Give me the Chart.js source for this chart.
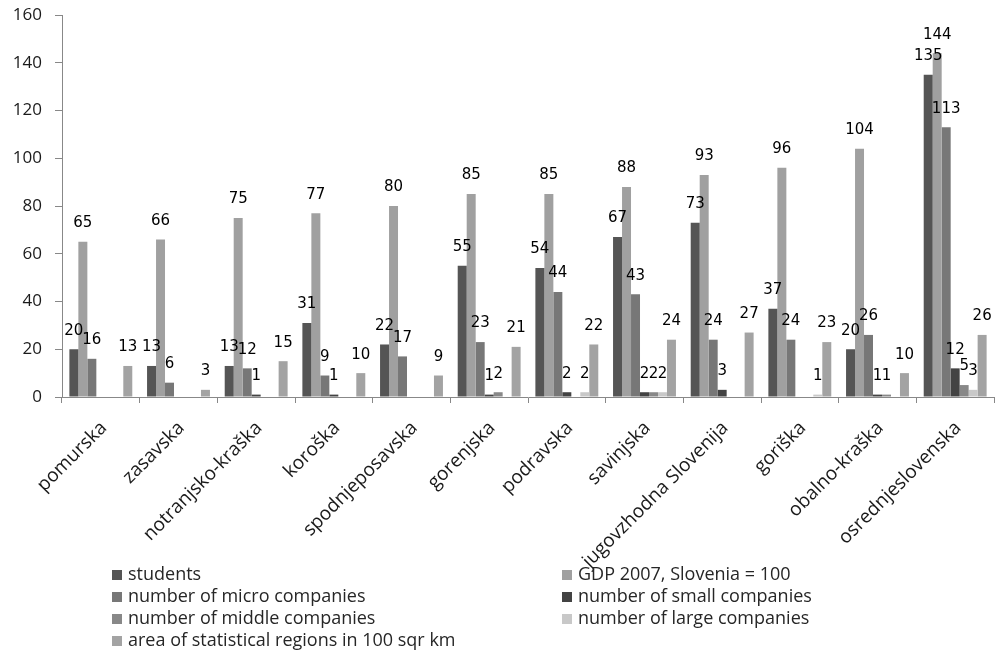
<!DOCTYPE html>
<html>
<head>
<meta charset="utf-8">
<script src="https://cdn.jsdelivr.net/npm/chart.js@4"></script>
<style>
  body { margin: 0; background: #fff; }
  #wrap { position: relative; width: 999px; height: 652px; }
  #legend { position: absolute; left: 0; top: 0; width: 999px; height: 652px; pointer-events: none;
            font-family: "Open Sans", sans-serif; font-size: 18px; color: #262626; }
  .item { position: absolute; white-space: nowrap; line-height: 22px; }
  .box { display: inline-block; width: 10px; height: 10px; margin-right: 6px; vertical-align: 0px; }
</style>
</head>
<body>
<div id="wrap">
  <canvas id="chart" width="999" height="652"></canvas>
  <div id="legend"></div>
</div>
<script>
const regions = ["pomurska", "zasavska", "notranjsko-kraška", "koroška", "spodnjeposavska", "gorenjska",
  "podravska", "savinjska", "jugovzhodna Slovenija", "goriška", "obalno-kraška", "osrednjeslovenska"];

const students = [20, 13, 13, 31, 22, 55, 54, 67, 73, 37, 20, 135];
const gdp2007 = [65, 66, 75, 77, 80, 85, 85, 88, 93, 96, 104, 144];
const microCompanies = [16, 6, 12, 9, 17, 23, 44, 43, 24, 24, 26, 113];
const smallCompanies = [null, null, 1, 1, null, 1, 2, 2, 3, null, 1, 12];
const middleCompanies = [null, null, null, null, null, 2, null, 2, null, null, 1, 5];
const largeCompanies = [null, null, null, null, null, null, 2, 2, null, 1, null, 3];
const areaRegions = [13, 3, 15, 10, 9, 21, 22, 24, 27, 23, 10, 26];

const yTicks = [0, 20, 40, 60, 80, 100, 120, 140, 160];

const series = [
  { label: "students", data: students, color: "#555555" },
  { label: "GDP 2007, Slovenia = 100", data: gdp2007, color: "#a0a0a0" },
  { label: "number of micro companies", data: microCompanies, color: "#777777" },
  { label: "number of small companies", data: smallCompanies, color: "#434343" },
  { label: "number of middle companies", data: middleCompanies, color: "#888888" },
  { label: "number of large companies", data: largeCompanies, color: "#c8c8c8" },
  { label: "area of statistical regions in 100 sqr km", data: areaRegions, color: "#a3a3a3" }
];

// value labels above each bar
const barLabels = {
  id: "barLabels",
  afterDatasetsDraw(chart) {
    const ctx = chart.ctx;
    ctx.save();
    ctx.font = "15px 'DejaVu Sans'";
    ctx.fillStyle = "#000";
    ctx.textAlign = "center";
    ctx.textBaseline = "bottom";
    chart.data.datasets.forEach((ds, i) => {
      const meta = chart.getDatasetMeta(i);
      meta.data.forEach((bar, j) => {
        const v = ds.data[j];
        if (v === null || v === undefined) return;
        ctx.fillText(String(v), bar.x, bar.y - 11);
      });
    });
    ctx.restore();
  }
};

const ctx = document.getElementById("chart").getContext("2d");
new Chart(ctx, {
  type: "bar",
  data: {
    labels: regions,
    datasets: series.map(s => ({
      label: s.label,
      data: s.data,
      backgroundColor: s.color,
      borderWidth: 0,
      categoryPercentage: 0.81,
      barPercentage: 1.0
    }))
  },
  options: {
    responsive: false,
    animation: false,
    layout: { padding: { top: 15, right: 5, left: 0, bottom: 0 } },
    plugins: { legend: { display: false }, tooltip: { enabled: false } },
    scales: {
      x: {
        grid: { display: true, drawOnChartArea: false, drawTicks: true, tickLength: 6, color: "#888" },
        border: { display: true, color: "#888" },
        ticks: {
          minRotation: 45, maxRotation: 45, autoSkip: false,
          labelOffset: 3, padding: 14,
          color: "#1a1a1a",
          font: { family: "'Open Sans'", size: 19 }
        },
        afterFit(scale) { scale.height = 255; }
      },
      y: {
        min: 0, max: 160,
        afterBuildTicks(scale) { scale.ticks = yTicks.map(v => ({ value: v })); },
        grid: { display: true, drawOnChartArea: false, drawTicks: true, tickLength: 7, color: "#888" },
        border: { display: true, color: "#888" },
        ticks: { padding: 13, color: "#1a1a1a", font: { family: "'Open Sans'", size: 17 } },
        afterFit(scale) {
          scale.width = 62;
          scale.paddingTop = 8;
          scale.paddingBottom = 0;
        }
      }
    }
  },
  plugins: [barLabels]
});

// legend in two columns, like the original
const legend = document.getElementById("legend");
series.forEach((s, i) => {
  const col = i % 2, row = Math.floor(i / 2);
  const el = document.createElement("div");
  el.className = "item";
  el.style.left = (col === 0 ? 112 : 562) + "px";
  el.style.top = (562 + row * 22) + "px";
  el.innerHTML = '<span class="box" style="background:' + s.color + '"></span>' + s.label;
  legend.appendChild(el);
});
</script>
</body>
</html>
